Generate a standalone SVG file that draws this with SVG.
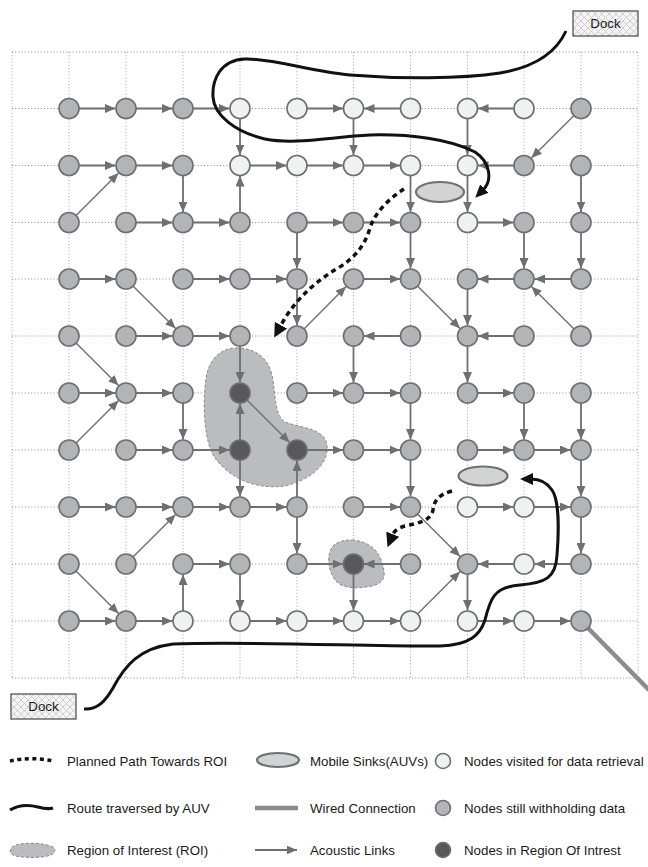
<svg xmlns="http://www.w3.org/2000/svg" width="648" height="867" viewBox="0 0 648 867">
<style>
.grid{stroke:#8a8a8a;stroke-width:1;stroke-dasharray:1 2.2;fill:none}
.gv{stroke:#a0a0a0}
.ln{stroke:#6e6f72;stroke-width:1.8;fill:none;marker-end:url(#ah)}
.dg{stroke-width:1.4}
.g{fill:#b3b4b7;stroke:#6e6f72;stroke-width:1.6}
.w{fill:#f0f1f3;stroke:#6e6f72;stroke-width:1.6}
.d{fill:#58585b;stroke:#6e6f72;stroke-width:1.6}
.roi{fill:#bbbcbf;stroke:#87888b;stroke-width:1;stroke-dasharray:3 2}
.sink{fill:#d2d3d5;stroke:#6e6f72;stroke-width:2.2}
.route{fill:none;stroke:#111;stroke-width:3}
.plan{fill:none;stroke:#111;stroke-width:3.5;stroke-dasharray:5 4}
.wire{stroke:#8b8c8f;stroke-width:4.5;fill:none}
.dock{fill:url(#hatch);stroke:#555;stroke-width:1.3}
text{font-family:"Liberation Sans",Arial,sans-serif;font-size:13.3px;fill:#1a1a1a}
</style>
<defs>
<marker id="ah" markerUnits="userSpaceOnUse" markerWidth="11" markerHeight="9" refX="10.5" refY="4.5" orient="auto"><path d="M0,0 L10.5,4.5 L0,9 z" fill="#6e6f72"/></marker>
<marker id="rh" markerUnits="userSpaceOnUse" markerWidth="14" markerHeight="12" refX="2" refY="6" orient="auto"><path d="M0,0 L13,6 L0,12 z" fill="#111"/></marker>
<marker id="ph" markerUnits="userSpaceOnUse" markerWidth="15" markerHeight="14" refX="2" refY="7" orient="auto"><path d="M0,0 L14,7 L0,14 z" fill="#111"/></marker>
<pattern id="hatch" patternUnits="userSpaceOnUse" width="7" height="7"><rect width="7" height="7" fill="#f4f4f4"/><path d="M0,0 L7,7 M7,0 L0,7" stroke="#c4c4c4" stroke-width="0.8"/></pattern>
</defs>

<g id="grid">
<path class="grid" d="M12,52 H638 M12,108.5 H638 M12,165.5 H638 M12,222.5 H638 M12,279 H638 M12,336 H638 M12,393 H638 M12,450 H638 M12,507 H638 M12,564 H638 M12,621 H638 M12,678 H638"/>
<path class="grid gv" d="M12,52 V678 M69,52 V678 M126,52 V678 M183,52 V678 M240,52 V678 M297,52 V678 M353.5,52 V678 M410.5,52 V678 M467.5,52 V678 M524,52 V678 M581,52 V678 M638,52 V678"/>
</g>

<g id="roi-regions">
<path class="roi" d="M236,348 C256,348 268,358 272,375 C276,395 274,415 285,422 C300,428 325,428 327,445 C329,465 310,480 285,486 C255,490 228,478 213,455 C203,435 203,400 206,378 C209,360 220,348 236,348 Z"/>
<path class="roi" d="M352,540 C366,541 377,548 381,560 C385,572 388,582 372,586 C358,589 342,589 335,580 C328,570 326,555 333,546 C338,541 345,540 352,540 Z"/>
</g>

<g id="connectors">
<path class="ln" d="M69,108.5 L115.5,108.5"/>
<path class="ln" d="M126,108.5 L172.5,108.5"/>
<path class="ln" d="M183,108.5 L229.5,108.5"/>
<path class="ln" d="M297,108.5 L343,108.5"/>
<path class="ln" d="M410.5,108.5 L364,108.5"/>
<path class="ln" d="M524,108.5 L478,108.5"/>
<path class="ln" d="M240,108.5 L240,155"/>
<path class="ln" d="M353.5,108.5 L353.5,155"/>
<path class="ln" d="M467.5,108.5 L467.5,155"/>
<path class="ln dg" d="M581,108.5 L531.4,158.1"/>

<path class="ln" d="M69,165.5 L115.5,165.5"/>
<path class="ln" d="M126,165.5 L172.5,165.5"/>
<path class="ln" d="M240,165.5 L286.5,165.5"/>
<path class="ln" d="M297,165.5 L343,165.5"/>
<path class="ln" d="M353.5,165.5 L400,165.5"/>
<path class="ln" d="M524,165.5 L478,165.5"/>
<path class="ln" d="M183,165.5 L183,212"/>
<path class="ln" d="M240,222.5 L240,176"/>
<path class="ln" d="M410.5,165.5 L410.5,212"/>
<path class="ln" d="M467.5,165.5 L467.5,212"/>
<path class="ln" d="M581,165.5 L581,212"/>
<path class="ln dg" d="M69,222.5 L118.6,172.9"/>

<path class="ln" d="M126,222.5 L172.5,222.5"/>
<path class="ln" d="M183,222.5 L229.5,222.5"/>
<path class="ln" d="M297,222.5 L343,222.5"/>
<path class="ln" d="M353.5,222.5 L400,222.5"/>
<path class="ln" d="M467.5,222.5 L513.5,222.5"/>
<path class="ln" d="M297,222.5 L297,268.5"/>
<path class="ln" d="M410.5,222.5 L410.5,268.5"/>
<path class="ln" d="M524,222.5 L524,268.5"/>
<path class="ln" d="M581,222.5 L581,268.5"/>

<path class="ln" d="M69,279 L115.5,279"/>
<path class="ln" d="M183,279 L229.5,279"/>
<path class="ln" d="M240,279 L286.5,279"/>
<path class="ln" d="M353.5,279 L400,279"/>
<path class="ln" d="M524,279 L478,279"/>
<path class="ln" d="M581,279 L534.5,279"/>
<path class="ln dg" d="M126,279 L175.6,328.6"/>
<path class="ln" d="M297,279 L297,325.5"/>
<path class="ln dg" d="M410.5,279 L460.1,328.6"/>
<path class="ln" d="M467.5,279 L467.5,325.5"/>
<path class="ln dg" d="M581,336 L531.4,286.4"/>
<path class="ln dg" d="M297,336 L346.1,286.4"/>

<path class="ln" d="M126,336 L172.5,336"/>
<path class="ln" d="M183,336 L229.5,336"/>
<path class="ln" d="M410.5,336 L364,336"/>
<path class="ln" d="M524,336 L478,336"/>
<path class="ln dg" d="M69,336 L118.6,385.6"/>
<path class="ln" d="M240,336 L240,382.5"/>
<path class="ln" d="M353.5,336 L353.5,382.5"/>
<path class="ln" d="M467.5,336 L467.5,382.5"/>

<path class="ln" d="M69,393 L115.5,393"/>
<path class="ln" d="M126,393 L172.5,393"/>
<path class="ln" d="M297,393 L343,393"/>
<path class="ln" d="M353.5,393 L400,393"/>
<path class="ln" d="M467.5,393 L513.5,393"/>
<path class="ln" d="M183,393 L183,439.5"/>
<path class="ln dg" d="M240,393 L289.6,442.6"/>
<path class="ln" d="M240,450 L240,403.5"/>
<path class="ln dg" d="M69,450 L118.6,400.4"/>
<path class="ln" d="M410.5,393 L410.5,439.5"/>
<path class="ln" d="M524,393 L524,439.5"/>
<path class="ln" d="M581,393 L581,439.5"/>

<path class="ln" d="M126,450 L172.5,450"/>
<path class="ln" d="M183,450 L229.5,450"/>
<path class="ln" d="M297,450 L343,450"/>
<path class="ln" d="M353.5,450 L400,450"/>
<path class="ln" d="M467.5,450 L513.5,450"/>
<path class="ln" d="M524,450 L570.5,450"/>
<path class="ln" d="M240,450 L240,496.5"/>
<path class="ln" d="M297,507 L297,460.5"/>
<path class="ln" d="M410.5,450 L410.5,496.5"/>
<path class="ln" d="M581,450 L581,496.5"/>

<path class="ln" d="M69,507 L115.5,507"/>
<path class="ln" d="M126,507 L172.5,507"/>
<path class="ln" d="M183,507 L229.5,507"/>
<path class="ln" d="M240,507 L286.5,507"/>
<path class="ln" d="M353.5,507 L400,507"/>
<path class="ln" d="M467.5,507 L513.5,507"/>
<path class="ln" d="M524,507 L570.5,507"/>
<path class="ln" d="M297,507 L297,553.5"/>
<path class="ln dg" d="M126,564 L175.6,514.4"/>
<path class="ln dg" d="M410.5,507 L460.1,556.6"/>
<path class="ln" d="M581,507 L581,553.5"/>

<path class="ln" d="M183,564 L229.5,564"/>
<path class="ln" d="M297,564 L343,564"/>
<path class="ln" d="M410.5,564 L364,564"/>
<path class="ln" d="M524,564 L478,564"/>
<path class="ln" d="M581,564 L534.5,564"/>
<path class="ln dg" d="M69,564 L118.6,613.6"/>
<path class="ln" d="M183,621 L183,574.5"/>
<path class="ln" d="M240,564 L240,610.5"/>
<path class="ln" d="M353.5,564 L353.5,610.5"/>
<path class="ln dg" d="M410.5,621 L460.1,571.4"/>
<path class="ln" d="M467.5,564 L467.5,610.5"/>

<path class="ln" d="M69,621 L115.5,621"/>
<path class="ln" d="M126,621 L172.5,621"/>
<path class="ln" d="M240,621 L286.5,621"/>
<path class="ln" d="M297,621 L343,621"/>
<path class="ln" d="M353.5,621 L400,621"/>
<path class="ln" d="M467.5,621 L513.5,621"/>
<path class="ln" d="M524,621 L570.5,621"/>

<path class="wire" d="M581,621 L649,690"/>
</g>

<g id="nodes">
<g id="n0-0"><circle class="g" cx="69" cy="108.5" r="10"/></g>
<g id="n0-1"><circle class="g" cx="126" cy="108.5" r="10"/></g>
<g id="n0-2"><circle class="g" cx="183" cy="108.5" r="10"/></g>
<g id="n0-3"><circle class="w" cx="240" cy="108.5" r="10"/></g>
<g id="n0-4"><circle class="w" cx="297" cy="108.5" r="10"/></g>
<g id="n0-5"><circle class="w" cx="353.5" cy="108.5" r="10"/></g>
<g id="n0-6"><circle class="w" cx="410.5" cy="108.5" r="10"/></g>
<g id="n0-7"><circle class="w" cx="467.5" cy="108.5" r="10"/></g>
<g id="n0-8"><circle class="w" cx="524" cy="108.5" r="10"/></g>
<g id="n0-9"><circle class="g" cx="581" cy="108.5" r="10"/></g>

<g id="n1-0"><circle class="g" cx="69" cy="165.5" r="10"/></g>
<g id="n1-1"><circle class="g" cx="126" cy="165.5" r="10"/></g>
<g id="n1-2"><circle class="g" cx="183" cy="165.5" r="10"/></g>
<g id="n1-3"><circle class="w" cx="240" cy="165.5" r="10"/></g>
<g id="n1-4"><circle class="w" cx="297" cy="165.5" r="10"/></g>
<g id="n1-5"><circle class="w" cx="353.5" cy="165.5" r="10"/></g>
<g id="n1-6"><circle class="w" cx="410.5" cy="165.5" r="10"/></g>
<g id="n1-7"><circle class="w" cx="467.5" cy="165.5" r="10"/></g>
<g id="n1-8"><circle class="g" cx="524" cy="165.5" r="10"/></g>
<g id="n1-9"><circle class="g" cx="581" cy="165.5" r="10"/></g>

<g id="n2-0"><circle class="g" cx="69" cy="222.5" r="10"/></g>
<g id="n2-1"><circle class="g" cx="126" cy="222.5" r="10"/></g>
<g id="n2-2"><circle class="g" cx="183" cy="222.5" r="10"/></g>
<g id="n2-3"><circle class="g" cx="240" cy="222.5" r="10"/></g>
<g id="n2-4"><circle class="g" cx="297" cy="222.5" r="10"/></g>
<g id="n2-5"><circle class="g" cx="353.5" cy="222.5" r="10"/></g>
<g id="n2-6"><circle class="g" cx="410.5" cy="222.5" r="10"/></g>
<g id="n2-7"><circle class="w" cx="467.5" cy="222.5" r="10"/></g>
<g id="n2-8"><circle class="g" cx="524" cy="222.5" r="10"/></g>
<g id="n2-9"><circle class="g" cx="581" cy="222.5" r="10"/></g>

<g id="n3-0"><circle class="g" cx="69" cy="279" r="10"/></g>
<g id="n3-1"><circle class="g" cx="126" cy="279" r="10"/></g>
<g id="n3-2"><circle class="g" cx="183" cy="279" r="10"/></g>
<g id="n3-3"><circle class="g" cx="240" cy="279" r="10"/></g>
<g id="n3-4"><circle class="g" cx="297" cy="279" r="10"/></g>
<g id="n3-5"><circle class="g" cx="353.5" cy="279" r="10"/></g>
<g id="n3-6"><circle class="g" cx="410.5" cy="279" r="10"/></g>
<g id="n3-7"><circle class="g" cx="467.5" cy="279" r="10"/></g>
<g id="n3-8"><circle class="g" cx="524" cy="279" r="10"/></g>
<g id="n3-9"><circle class="g" cx="581" cy="279" r="10"/></g>

<g id="n4-0"><circle class="g" cx="69" cy="336" r="10"/></g>
<g id="n4-1"><circle class="g" cx="126" cy="336" r="10"/></g>
<g id="n4-2"><circle class="g" cx="183" cy="336" r="10"/></g>
<g id="n4-3"><circle class="g" cx="240" cy="336" r="10"/></g>
<g id="n4-4"><circle class="g" cx="297" cy="336" r="10"/></g>
<g id="n4-5"><circle class="g" cx="353.5" cy="336" r="10"/></g>
<g id="n4-6"><circle class="g" cx="410.5" cy="336" r="10"/></g>
<g id="n4-7"><circle class="g" cx="467.5" cy="336" r="10"/></g>
<g id="n4-8"><circle class="g" cx="524" cy="336" r="10"/></g>
<g id="n4-9"><circle class="g" cx="581" cy="336" r="10"/></g>

<g id="n5-0"><circle class="g" cx="69" cy="393" r="10"/></g>
<g id="n5-1"><circle class="g" cx="126" cy="393" r="10"/></g>
<g id="n5-2"><circle class="g" cx="183" cy="393" r="10"/></g>
<g id="n5-3"><circle class="d" cx="240" cy="393" r="10"/></g>
<g id="n5-4"><circle class="g" cx="297" cy="393" r="10"/></g>
<g id="n5-5"><circle class="g" cx="353.5" cy="393" r="10"/></g>
<g id="n5-6"><circle class="g" cx="410.5" cy="393" r="10"/></g>
<g id="n5-7"><circle class="g" cx="467.5" cy="393" r="10"/></g>
<g id="n5-8"><circle class="g" cx="524" cy="393" r="10"/></g>
<g id="n5-9"><circle class="g" cx="581" cy="393" r="10"/></g>

<g id="n6-0"><circle class="g" cx="69" cy="450" r="10"/></g>
<g id="n6-1"><circle class="g" cx="126" cy="450" r="10"/></g>
<g id="n6-2"><circle class="g" cx="183" cy="450" r="10"/></g>
<g id="n6-3"><circle class="d" cx="240" cy="450" r="10"/></g>
<g id="n6-4"><circle class="d" cx="297" cy="450" r="10"/></g>
<g id="n6-5"><circle class="g" cx="353.5" cy="450" r="10"/></g>
<g id="n6-6"><circle class="g" cx="410.5" cy="450" r="10"/></g>
<g id="n6-7"><circle class="g" cx="467.5" cy="450" r="10"/></g>
<g id="n6-8"><circle class="g" cx="524" cy="450" r="10"/></g>
<g id="n6-9"><circle class="g" cx="581" cy="450" r="10"/></g>

<g id="n7-0"><circle class="g" cx="69" cy="507" r="10"/></g>
<g id="n7-1"><circle class="g" cx="126" cy="507" r="10"/></g>
<g id="n7-2"><circle class="g" cx="183" cy="507" r="10"/></g>
<g id="n7-3"><circle class="g" cx="240" cy="507" r="10"/></g>
<g id="n7-4"><circle class="g" cx="297" cy="507" r="10"/></g>
<g id="n7-5"><circle class="g" cx="353.5" cy="507" r="10"/></g>
<g id="n7-6"><circle class="g" cx="410.5" cy="507" r="10"/></g>
<g id="n7-7"><circle class="w" cx="467.5" cy="507" r="10"/></g>
<g id="n7-8"><circle class="w" cx="524" cy="507" r="10"/></g>
<g id="n7-9"><circle class="g" cx="581" cy="507" r="10"/></g>

<g id="n8-0"><circle class="g" cx="69" cy="564" r="10"/></g>
<g id="n8-1"><circle class="g" cx="126" cy="564" r="10"/></g>
<g id="n8-2"><circle class="g" cx="183" cy="564" r="10"/></g>
<g id="n8-3"><circle class="g" cx="240" cy="564" r="10"/></g>
<g id="n8-4"><circle class="g" cx="297" cy="564" r="10"/></g>
<g id="n8-5"><circle class="d" cx="353.5" cy="564" r="10"/></g>
<g id="n8-6"><circle class="g" cx="410.5" cy="564" r="10"/></g>
<g id="n8-7"><circle class="g" cx="467.5" cy="564" r="10"/></g>
<g id="n8-8"><circle class="w" cx="524" cy="564" r="10"/></g>
<g id="n8-9"><circle class="g" cx="581" cy="564" r="10"/></g>

<g id="n9-0"><circle class="g" cx="69" cy="621" r="10"/></g>
<g id="n9-1"><circle class="g" cx="126" cy="621" r="10"/></g>
<g id="n9-2"><circle class="w" cx="183" cy="621" r="10"/></g>
<g id="n9-3"><circle class="w" cx="240" cy="621" r="10"/></g>
<g id="n9-4"><circle class="w" cx="297" cy="621" r="10"/></g>
<g id="n9-5"><circle class="w" cx="353.5" cy="621" r="10"/></g>
<g id="n9-6"><circle class="w" cx="410.5" cy="621" r="10"/></g>
<g id="n9-7"><circle class="w" cx="467.5" cy="621" r="10"/></g>
<g id="n9-8"><circle class="w" cx="524" cy="621" r="10"/></g>
<g id="n9-9"><circle class="g" cx="581" cy="621" r="10"/></g>
</g>

<g id="sinks">
<ellipse class="sink" cx="440" cy="192" rx="24" ry="10"/>
<ellipse class="sink" cx="483" cy="476" rx="24.5" ry="9.5"/>
</g>

<g id="routes">
<path class="route" marker-end="url(#rh)" d="M566,31 C555,55 530,68 500,73 C460,79 400,79 350,75 C310,71 270,58 245,59 C220,60 212,80 213,97 C214,115 235,132 265,139 C295,145 330,137 370,135 C410,134 450,139 475,152 C490,162 493,180 483,190"/>
<path class="route" marker-end="url(#rh)" d="M84,709 C98,710 106,700 113,688 C125,665 140,648 173,644 C250,641 380,647 440,646 C470,645 480,635 485,620 C490,600 493,587 520,585 C545,583 556,578 557,555 C559,530 559,500 552,490 C546,481 538,479 531,479"/>
<path class="plan" marker-end="url(#ph)" d="M404,189 C390,198 375,212 370,228 C365,245 355,258 338,268 C318,280 300,295 285,318 L280,327"/>
<path class="plan" marker-end="url(#ph)" d="M452,491 C440,494 434,500 433,510 C431,520 420,523 405,526 C398,528 394,531 392,536"/>
</g>

<g id="dock-top">
<rect class="dock" x="573" y="11" width="65" height="25"/>
<text x="605.5" y="28" text-anchor="middle">Dock</text>
</g>
<g id="dock-bottom">
<rect class="dock" x="11" y="694" width="65" height="25"/>
<text x="43.5" y="711" text-anchor="middle">Dock</text>
</g>

<g id="legend">
<path d="M10,761 C22,758 40,758 53,761" fill="none" stroke="#111" stroke-width="3.5" stroke-dasharray="4 3.5"/>
<text x="67" y="766">Planned Path Towards ROI</text>
<path d="M10,810 C20,804 30,805 38,807 C45,809 50,809 53,808" fill="none" stroke="#111" stroke-width="3.2"/>
<text x="67" y="813">Route traversed by AUV</text>
<path class="roi" d="M16,845 C26,842 45,843 53,847 C57,850 55,855 45,856.5 C35,858 20,858 13,855 C9,853 9,847 16,845 Z"/>
<text x="67" y="855">Region of Interest (ROI)</text>

<ellipse class="sink" cx="278" cy="760" rx="21" ry="7"/>
<text x="310" y="766">Mobile Sinks(AUVs)</text>
<path class="wire" d="M255,808 L298,808"/>
<text x="310" y="813">Wired Connection</text>
<path class="ln" d="M255,850 L297,850"/>
<text x="310" y="855">Acoustic Links</text>

<circle class="w" cx="443" cy="761" r="7.5"/>
<text x="464" y="766">Nodes visited for data retrieval</text>
<circle class="g" cx="443" cy="808" r="7.5"/>
<text x="464" y="813">Nodes still withholding data</text>
<circle class="d" cx="443" cy="850" r="7.5"/>
<text x="464" y="855">Nodes in Region Of Intrest</text>
</g>
</svg>
